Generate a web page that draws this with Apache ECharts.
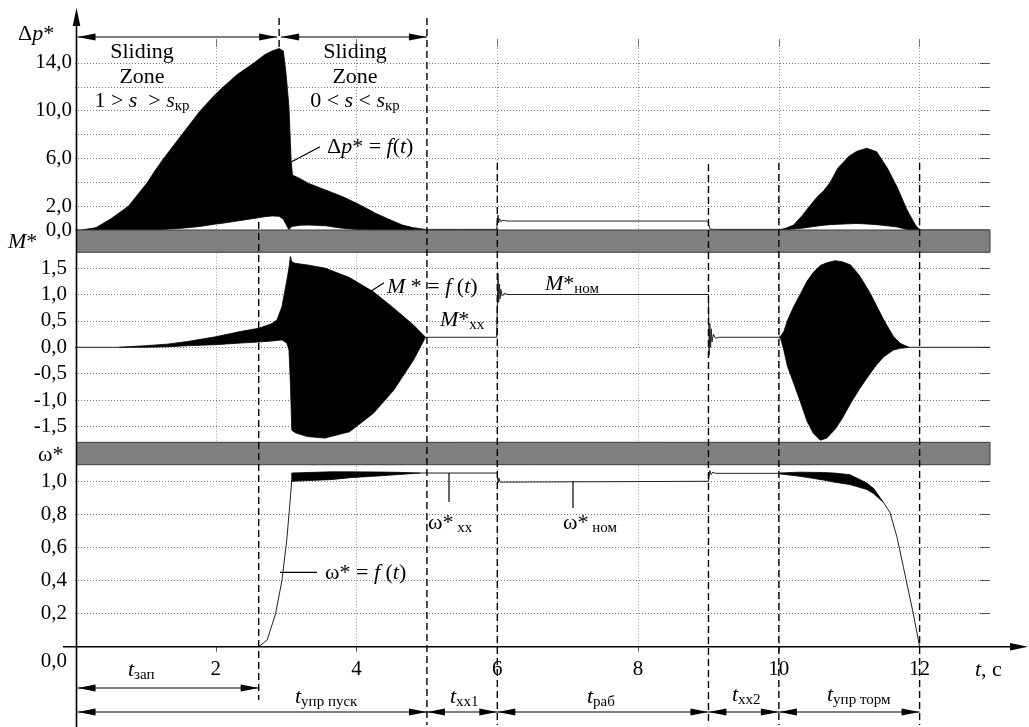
<!DOCTYPE html>
<html><head><meta charset="utf-8">
<script src="https://cdn.jsdelivr.net/npm/echarts@6/dist/echarts.min.js"></script>
<style>html,body{margin:0;padding:0;background:#fff}#c{width:1029px;height:727px}</style>
</head><body><div id="c"></div>
<script>
// ================= DATA =================
const T_MAX = 13;
const xTickLabels = [2, 4, 6, 8, 10, 12];
const dpLabelVals = [0, 2, 6, 10, 14];
const eventT = [2.61, 2.90, 5.0, 6.0, 9.0, 10.0, 12.0];

// Δp* envelope (start-up)
const dpEnvT  = [0.10,0.30,0.50,0.76,1.03,1.14,1.26,1.52,1.78,2.00,2.09,2.30,2.52,2.70,2.80,2.90,2.96,3.00,3.04,3.07,3.09,3.20,3.32,3.56,3.80,4.05,4.27,4.50,4.65,4.80,4.98];
const dpEnvUp = [0,0.2,0.9,2.0,4.0,5.0,6.0,8.0,10.0,11.4,11.9,13.0,13.9,14.7,15.0,15.2,15.0,13.0,10.3,5.9,4.6,4.3,3.9,3.35,2.8,2.1,1.4,0.8,0.42,0.2,0.05];
const dpEnvLo = [0,0,0,0,0,0,0.05,0.15,0.3,0.5,0.56,0.75,0.95,1.12,1.18,1.15,0.9,0.45,0.02,0.25,0.3,0.4,0.42,0.35,0.15,0.02,0,0,0,0,0.05];
// Δp* envelope (braking)
const dpBrkT  = [10.00,10.10,10.21,10.33,10.45,10.55,10.64,10.73,10.84,10.92,11.00,11.11,11.25,11.39,11.54,11.68,11.82,11.94,12.00];
const dpBrkUp = [0,0.15,0.42,1.2,2.1,2.8,3.3,4.0,5.2,5.7,6.2,6.6,6.85,6.55,5.2,3.6,1.7,0.42,0];
const dpBrkLo = [0,0.03,0.08,0.15,0.25,0.33,0.4,0.45,0.48,0.5,0.52,0.55,0.5,0.45,0.35,0.25,0.05,0,0];
// Δp* thin trace (null = gap)
const dpLineT = [0,0.10,0.10,4.98,5.50,5.99,6.00,6.01,6.02,6.03,6.05,6.08,6.12,6.20,8.99,9.00,9.02,9.04,9.06,9.10,10.00,10.00,12.00,13.00];
const dpLineV = [0,0,null,0.05,0.05,0.05,0.05,1.25,0.6,0.95,0.7,0.82,0.76,0.75,0.75,0.75,0.1,0.18,0.06,0.05,0.05,null,0,0];

// M* envelope (start-up)
const mEnvT  = [0.62,1.00,1.31,1.60,2.00,2.35,2.61,2.80,2.87,2.94,3.01,3.04,3.06,3.08,3.13,3.30,3.55,3.90,4.24,4.53,4.81,4.98];
const mEnvUp = [0,0.03,0.06,0.11,0.2,0.3,0.36,0.45,0.52,0.77,1.27,1.5,1.72,1.62,1.59,1.56,1.50,1.32,1.05,0.74,0.42,0.19];
const mEnvLo = [0,0,0.01,0.03,0.05,0.08,0.1,0.12,0.13,0.14,0.08,-0.05,-0.68,-1.57,-1.62,-1.69,-1.72,-1.60,-1.25,-0.81,-0.24,0.19];
// M* envelope (braking)
const mBrkT  = [10.00,10.02,10.07,10.12,10.21,10.31,10.40,10.49,10.59,10.68,10.80,10.90,11.02,11.15,11.30,11.39,11.49,11.63,11.73,11.85];
const mBrkUp = [0.19,0.2,0.3,0.5,0.77,1.02,1.25,1.42,1.55,1.60,1.64,1.62,1.56,1.35,1.02,0.78,0.52,0.2,0.07,0];
const mBrkLo = [0.19,0.19,-0.05,-0.35,-0.68,-1.05,-1.4,-1.63,-1.76,-1.72,-1.55,-1.35,-1.06,-0.78,-0.49,-0.33,-0.18,-0.05,-0.02,0];
// M* thin trace
const mLineT = [0,0.62,0.62,4.98,5.99,6.00,6.01,6.02,6.03,6.04,6.05,6.07,6.10,6.15,9.00,9.01,9.02,9.03,9.04,9.05,9.07,9.10,9.15,10.00,10.00,11.85,13.00];
const mLineV = [0,0,null,0.19,0.19,0.19,1.4,0.85,1.2,0.92,1.1,0.97,1.02,1.0,1.0,-0.15,0.45,0.0,0.35,0.1,0.25,0.17,0.19,0.19,null,0,0];

// ω* envelope (start-up)
const wEnvT  = [3.08,3.30,3.63,3.91,4.30,4.60,4.91];
const wEnvUp = [1.05,1.053,1.057,1.057,1.056,1.054,1.05];
const wEnvLo = [1.0,1.004,1.01,1.022,1.032,1.041,1.05];
// ω* envelope (braking)
const wBrkT  = [10.00,10.30,10.63,10.78,11.01,11.25,11.35,11.49];
const wBrkUp = [1.05,1.055,1.053,1.05,1.04,0.99,0.955,0.87];
const wBrkLo = [1.045,1.03,1.008,0.995,0.98,0.95,0.925,0.87];
// ω* thin trace
const wLineT = [0,2.61,2.73,2.85,2.94,3.01,3.05,3.08,3.08,4.91,6.00,6.01,6.02,6.04,6.06,9.00,9.01,9.02,9.04,9.06,9.10,10.00,10.00,11.49,11.58,11.68,11.77,11.91,12.00,13.00];
const wLineV = [0,0,0.04,0.2,0.4,0.65,0.85,1.01,null,1.05,1.05,0.99,1.02,0.995,1.0,1.0,1.03,1.065,1.04,1.055,1.048,1.048,null,0.87,0.81,0.66,0.48,0.2,0,0];

// ================= CHART =================
const SERIF = '"Liberation Serif","DejaVu Serif",serif';
const fmt = v => (Math.round(v * 10) / 10).toFixed(1).replace('.', ',');
const AX = [[0, 0], [2, 1], [3, 2]]; // [xAxisIndex, yAxisIndex] per panel

const gridX = {show: true, showMinLine: false, showMaxLine: false, lineStyle: {color: '#9a9a9a', width: 1, type: [1, 2]}};
const gridY = {show: true, showMinLine: false, showMaxLine: false, lineStyle: {color: '#777', width: 1, type: [1, 2]}};
const labelFont = {fontFamily: SERIF, fontSize: 21, color: '#000'};

function xAx(grid, extra) {
  return Object.assign({type: 'value', gridIndex: grid, min: 0, max: T_MAX, interval: 2,
    axisLine: {show: false, onZero: false}, axisTick: {show: false}, axisLabel: {show: false}, splitLine: {show: false}}, extra);
}
function yAx(grid, min, max, interval, extra) {
  return Object.assign({type: 'value', gridIndex: grid, min, max, interval,
    axisLine: {show: false, onZero: false}, axisTick: {show: false}, axisLabel: {show: false}, splitLine: {show: false}}, extra);
}
// filled envelope between lo and up, drawn as one polygon through the axis scales
function env(g, T, up, lo) {
  const [xi, yi] = AX[g];
  return {type: 'custom', xAxisIndex: xi, yAxisIndex: yi, silent: true, clip: true, z: 3,
    data: T.map((t, i) => [t, lo[i], up[i]]),
    encode: {x: 0, y: [1, 2]},
    renderItem: function (params, api) {
      if (params.dataIndex !== 0) return null;
      const pts = [];
      for (let i = 0; i < T.length; i++) pts.push(api.coord([T[i], up[i]]));
      for (let i = T.length - 1; i >= 0; i--) pts.push(api.coord([T[i], lo[i]]));
      return {type: 'polygon', shape: {points: pts}, style: {fill: '#000', stroke: '#000', lineWidth: 0.8}};
    }};
}
function thin(g, T, V) {
  const [xi, yi] = AX[g];
  return {type: 'line', xAxisIndex: xi, yAxisIndex: yi, symbol: 'none', silent: true, connectNulls: false,
    lineStyle: {color: '#222', width: 1}, data: T.map((t, i) => [t, V[i] === null ? '-' : V[i]]), z: 4};
}

const option = {
  animation: false,
  backgroundColor: '#fff',
  textStyle: {fontFamily: SERIF},
  grid: [
    {left: 75, right: 39, top: 39, height: 191, outerBoundsMode: 'none'},
    {left: 75, right: 39, top: 241.7, height: 211.2, outerBoundsMode: 'none'},
    {left: 75, right: 39, top: 448.2, height: 198.5, outerBoundsMode: 'none'}
  ],
  xAxis: [
    xAx(0, {splitLine: gridX}),
    xAx(0, {position: 'top', axisTick: {show: true, inside: true, length: 8, customValues: xTickLabels, lineStyle: {color: '#777'}}}),
    xAx(1, {splitLine: gridX}),
    xAx(2, {splitLine: gridX,
      axisTick: {show: true, inside: false, length: 5, customValues: xTickLabels, lineStyle: {color: '#555'}},
      axisLabel: Object.assign({show: true, margin: 12, formatter: v => xTickLabels.includes(v) ? String(v) : ''}, labelFont)})
  ],
  yAxis: [
    yAx(0, 0, 16, 2, {splitLine: gridY,
      axisLabel: Object.assign({show: true, margin: 3, formatter: v => dpLabelVals.includes(v) ? fmt(v) : ''}, labelFont)}),
    yAx(1, -2, 2, 0.5, {splitLine: gridY,
      axisLabel: Object.assign({show: true, margin: 8, formatter: v => Math.abs(v) <= 1.5 ? fmt(v) : ''}, labelFont)}),
    yAx(2, 0, 1.2, 0.2, {splitLine: gridY,
      axisLabel: Object.assign({show: true, margin: 8,
        formatter: v => v === 0 ? '{low|0,0}' : (v > 1.05 ? '' : fmt(v)),
        rich: {low: {fontFamily: SERIF, fontSize: 21, color: '#000', padding: [30, 0, 0, 0]}}}, labelFont)}),
    yAx(0, 0, 16, 2, {position: 'right', axisTick: {show: true, inside: true, length: 10, customValues: [2,4,6,8,10,12,14], lineStyle: {color: '#555'}}}),
    yAx(1, -2, 2, 0.5, {position: 'right', axisTick: {show: true, inside: true, length: 10, customValues: [-1.5,-1,-0.5,0,0.5,1,1.5], lineStyle: {color: '#555'}}}),
    yAx(2, 0, 1.2, 0.2, {position: 'right', axisTick: {show: true, inside: true, length: 10, customValues: [0.2,0.4,0.6,0.8,1.0], lineStyle: {color: '#555'}}})
  ],
  series: [
    env(0, dpEnvT, dpEnvUp, dpEnvLo),
    env(0, dpBrkT, dpBrkUp, dpBrkLo),
    thin(0, dpLineT, dpLineV),
    env(1, mEnvT, mEnvUp, mEnvLo),
    env(1, mBrkT, mBrkUp, mBrkLo),
    thin(1, mLineT, mLineV),
    env(2, wEnvT, wEnvUp, wEnvLo),
    env(2, wBrkT, wBrkUp, wBrkLo),
    thin(2, wLineT, wLineV)
  ]
};

const chart = echarts.init(document.getElementById('c'), null, {renderer: 'canvas'});
chart.setOption(option);

// ================= ANNOTATIONS =================
const P = (g, t, v) => chart.convertToPixel({xAxisIndex: AX[g][0], yAxisIndex: AX[g][1]}, [t, v]);
const xOf = t => P(0, t, 0)[0];
const x0 = xOf(0) + 1.5, xR = xOf(T_MAX);
const yDp0 = P(0, 0, 0)[1], yMtop = P(1, 0, 1.8)[1], yMbot = P(1, 0, -1.8)[1], yWtop = P(2, 0, 1.1)[1], yW0 = P(2, 0, 0)[1];

const RICH = {
  n: {fontSize: 22, fontFamily: SERIF, fill: '#000', lineHeight: 26},
  i: {fontSize: 22, fontFamily: SERIF, fontStyle: 'italic', fill: '#000', lineHeight: 26},
  s: {fontSize: 15, fontFamily: SERIF, fill: '#000', verticalAlign: 'bottom', lineHeight: 14}
};
const G = [];
function txt(x, y, text, align) {
  align = align || 'left';
  G.push({type: 'text', z: 80, silent: true, style: {text, x, y, rich: RICH, font: '22px ' + SERIF, fill: '#000',
    align, textAlign: align, verticalAlign: 'middle', textVerticalAlign: 'middle'}});
}
function line(x1, y1, x2, y2, dash, w) {
  G.push({type: 'line', z: 70, silent: true, shape: {x1, y1, x2, y2},
    style: {stroke: '#000', lineWidth: w || 1, lineDash: dash || null}});
}
function head(tx, ty, dx, dy, L, h) { // tip at (tx,ty), pointing along (dx,dy)
  const bx = tx - dx * L, by = ty - dy * L;
  G.push({type: 'polygon', z: 75, silent: true,
    shape: {points: [[tx, ty], [bx - dy * h, by + dx * h], [bx + dy * h, by - dx * h]]}, style: {fill: '#000'}});
}
function dArrow(xa, xb, y) {
  line(xa, y, xb, y, null, 1.2);
  head(xa, y, -1, 0, 18, 3.5);
  head(xb, y, 1, 0, 18, 3.5);
}

// grey separator bands
G.push({type: 'rect', z: 50, silent: true, shape: {x: x0, y: yDp0, width: xR - x0, height: yMtop - yDp0},
  style: {fill: '#808080', stroke: '#3a3a3a', lineWidth: 1}});
G.push({type: 'rect', z: 50, silent: true, shape: {x: x0, y: yMbot, width: xR - x0, height: yWtop - yMbot},
  style: {fill: '#808080', stroke: '#3a3a3a', lineWidth: 1}});

// main axes with arrows
line(x0, 727, x0, 22, null, 1.6);
head(x0, 8, 0, -1, 18, 3.8);
line(63, yW0, 1012, yW0, null, 1.4);
head(1028, yW0, 1, 0, 18, 3.8);

// dashed event markers (vertical extents are layout, in px)
const dashSpan = [[222, 700], [18, 47], [18, 725], [163, 725], [164, 725], [163, 725], [163, 725]];
eventT.forEach((t, i) => line(xOf(t), dashSpan[i][0], xOf(t), dashSpan[i][1], [7, 4], 1.4));

// interval arrows
dArrow(x0 + 1, xOf(eventT[1]) - 2, 37);
dArrow(xOf(eventT[1]) + 2, xOf(eventT[2]), 37);
dArrow(x0 + 1, xOf(eventT[0]), 688);
dArrow(x0 + 1, xOf(eventT[2]), 712);
dArrow(xOf(eventT[2]), xOf(eventT[3]), 712);
dArrow(xOf(eventT[3]), xOf(eventT[4]), 712);
dArrow(xOf(eventT[4]), xOf(eventT[5]), 712);
dArrow(xOf(eventT[5]), xOf(eventT[6]), 712);

// axis titles
txt(18, 34, '{n|Δ}{i|p}{n|*}');
txt(8, 242, '{i|M}{n|*}');
txt(38, 455, '{n|ω*}');
txt(975, 670, '{i|t}{n|, c}');

// sliding zone texts
txt(142, 52, '{n|Sliding}', 'center');
txt(142, 77, '{n|Zone}', 'center');
txt(142, 101, '{n|1 > }{i|s}{n|  > }{i|s}{s|кр}', 'center');
txt(355, 52, '{n|Sliding}', 'center');
txt(355, 77, '{n|Zone}', 'center');
txt(355, 101, '{n|0 < }{i|s}{n| < }{i|s}{s|кр}', 'center');

// curve labels + leaders
txt(327, 147, '{n|Δ}{i|p}{n|* = }{i|f}{n|(}{i|t}{n|)}');
line(291.7, 161.7, 320, 146.7, null, 1.2);
txt(387, 287, '{i|M}{n| * = }{i|f}{n| (}{i|t}{n|)}');
line(370, 291.7, 384, 282.7, null, 1.2);
txt(440, 320, '{i|M}{n|*}{s|xx}');
txt(545, 284, '{i|M}{n|*}{s|ном}');
txt(325, 573, '{n|ω* = }{i|f}{n| (}{i|t}{n|)}');
line(280, 572.3, 317, 572.3, null, 1.2);
txt(428, 523, '{n|ω*}{s| xx}');
line(449, 473, 449, 502, null, 1.2);
txt(563, 523, '{n|ω*}{s| ном}');
line(573, 481, 573, 508, null, 1.2);

// interval names
txt(128, 670, '{i|t}{s|зап}');
txt(295, 697, '{i|t}{s|упр пуск}');
txt(450, 697, '{i|t}{s|xx1}');
txt(587, 697, '{i|t}{s|раб}');
txt(732, 695, '{i|t}{s|xx2}');
txt(827, 695, '{i|t}{s|упр торм}');

chart.setOption({graphic: {elements: G}});
</script>
</body></html>
